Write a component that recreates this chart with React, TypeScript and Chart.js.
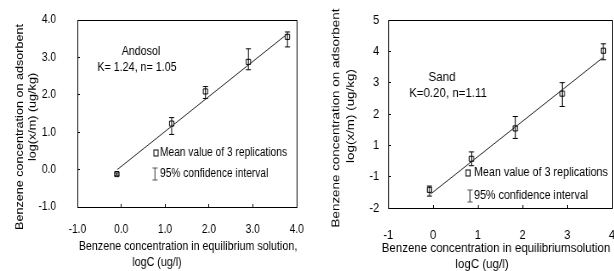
import React, { useEffect, useRef } from "react";
import { Chart, registerables } from "chart.js";
Chart.register(...registerables);

const FONT = "'Liberation Sans', Arial, Helvetica, sans-serif";

// ---------- Andosol panel ----------
const andosolLogC = [-0.1, 1.15, 1.92, 2.9, 3.79];
const andosolMean = [-0.12, 1.23, 2.09, 2.88, 3.55];
const andosolLow = [-0.15, 0.94, 1.9, 2.67, 3.28];
const andosolHigh = [-0.09, 1.39, 2.22, 3.23, 3.68];
const andosolFitLogC = [-0.09, 3.79];
const andosolFitLogQ = [0.0, 3.63];
const andosolXTickLabels = ["-1.0", "0.0", "1.0", "2.0", "3.0", "4.0"];
const andosolYTickLabels = ["-1.0", "0.0", "1.0", "2.0", "3.0", "4.0"];

// ---------- Sand panel (y tick labels as printed: the "0" label is absent) ----------
const sandLogC = [-0.08, 0.86, 1.84, 2.89, 3.81];
const sandMean = [-1.42, -0.43, 0.54, 1.65, 3.02];
const sandLow = [-1.62, -0.65, 0.22, 1.24, 2.73];
const sandHigh = [-1.3, -0.21, 0.92, 2.0, 3.24];
const sandFitLogC = [-0.05, 3.8];
const sandFitLogQ = [-1.55, 2.8];
const sandXTickLabels = ["-1", "0", "1", "2", "3", "4"];
const sandYTickLabels = ["-2", "-1", "1", "2", "3", "4", "5"];

type TextItem = { text: string; x: number; y: number; size: number; rotate?: boolean; align?: CanvasTextAlign };
type PanelDef = {
  left: number;
  squeeze: number;
  width: number;
  yAxisWidth: number;
  xAxisHeight: number;
  padRight: number;
  xMin: number; xMax: number; yMin: number; yMax: number;
  xLabels: string[]; yLabels: string[];
  tickFont: number;
  xTickPad: number; yTickPad: number;
  logC: number[]; mean: number[]; low: number[]; high: number[];
  fitX: number[]; fitY: number[];
  texts: TextItem[];
  legendSquare: { x: number; y: number };
  legendBar: { x: number; y1: number; y2: number };
};

const panels: PanelDef[] = [
  {
    left: 0, squeeze: 0.85, width: 358, yAxisWidth: 91, xAxisHeight: 64, padRight: 9,
    xMin: -1, xMax: 4, yMin: -1, yMax: 4,
    xLabels: andosolXTickLabels, yLabels: andosolYTickLabels,
    tickFont: 12, xTickPad: 18, yTickPad: 28,
    logC: andosolLogC, mean: andosolMean, low: andosolLow, high: andosolHigh,
    fitX: andosolFitLogC, fitY: andosolFitLogQ,
    texts: [
      { text: "Benzene concentration on adsorbent", x: 20, y: 127, size: 12.6, rotate: true },
      { text: "log(x/m) (ug/kg)", x: 33, y: 117, size: 12.6, rotate: true },
      { text: "Benzene concentration in equilibrium solution,", x: 188, y: 247, size: 12.6 },
      { text: "logC (ug/l)", x: 157, y: 263, size: 12.6 },
      { text: "Andosol", x: 141, y: 52, size: 12.6 },
      { text: "K= 1.24, n= 1.05", x: 137, y: 68, size: 12.6 },
      { text: "Mean value of 3 replications", x: 160, y: 153, size: 12, align: "left" },
      { text: "95% confidence interval", x: 160, y: 174, size: 12, align: "left" },
    ],
    legendSquare: { x: 156, y: 153 },
    legendBar: { x: 155, y1: 168, y2: 180 },
  },
  {
    left: 304, squeeze: 0.86, width: 372, yAxisWidth: 98, xAxisHeight: 63, padRight: 14,
    xMin: -1, xMax: 4, yMin: -2, yMax: 4,
    xLabels: sandXTickLabels, yLabels: sandYTickLabels,
    tickFont: 13, xTickPad: 23, yTickPad: 13.5,
    logC: sandLogC, mean: sandMean, low: sandLow, high: sandHigh,
    fitX: sandFitLogC, fitY: sandFitLogQ,
    texts: [
      { text: "Benzene concentration on adsorbent", x: 32, y: 118, size: 13.4, rotate: true },
      { text: "log(x/m) (ug/kg)", x: 47, y: 116, size: 13.4, rotate: true },
      { text: "Benzene concentration in equilibriumsolution", x: 192, y: 248, size: 13.4 },
      { text: "logC (ug/l)", x: 178, y: 264, size: 13.4 },
      { text: "Sand", x: 138, y: 77, size: 13.4 },
      { text: "K=0.20, n=1.11", x: 144, y: 93, size: 13.4 },
      { text: "Mean value of 3 replications", x: 170, y: 173, size: 12.5, align: "left" },
      { text: "95% confidence interval", x: 170, y: 196, size: 12.5, align: "left" },
    ],
    legendSquare: { x: 164, y: 173 },
    legendBar: { x: 166, y1: 190, y2: 202 },
  },
];

function makeDecor(p: PanelDef) {
  const s = p.squeeze;
  return {
    id: "decor",
    beforeDatasetsDraw(chart: any) {
      const { left, right, top, bottom } = chart.chartArea;
      const ctx = chart.ctx;
      ctx.save();
      ctx.strokeStyle = "#000";
      ctx.lineWidth = 1;
      ctx.strokeRect(Math.round(left) + 0.5, Math.round(top) + 0.5, Math.round(right - left), Math.round(bottom - top));
      ctx.restore();
    },
    afterDraw(chart: any) {
      const ctx = chart.ctx;
      ctx.save();
      ctx.fillStyle = "#000";
      ctx.textBaseline = "middle";
      for (const t of p.texts) {
        ctx.font = `${t.size}px ${FONT}`;
        ctx.textAlign = t.align || "center";
        if (t.rotate) {
          ctx.save();
          ctx.translate(t.x / s, t.y);
          ctx.rotate(-Math.PI / 2);
          ctx.fillText(t.text, 0, 0);
          ctx.restore();
        } else {
          ctx.fillText(t.text, t.x / s, t.y);
        }
      }
      // legend symbols
      ctx.strokeStyle = "#000";
      ctx.lineWidth = 1;
      const sq = p.legendSquare;
      ctx.fillStyle = "#fff";
      ctx.fillRect(sq.x / s - 2.5, sq.y - 3, 5, 6);
      ctx.strokeRect(sq.x / s - 2.5, sq.y - 3, 5, 6);
      const b = p.legendBar;
      ctx.strokeStyle = "#555";
      ctx.lineWidth = 1.2;
      ctx.beginPath();
      ctx.moveTo(b.x / s, b.y1);
      ctx.lineTo(b.x / s, b.y2);
      ctx.moveTo(b.x / s - 3, b.y1);
      ctx.lineTo(b.x / s + 3, b.y1);
      ctx.moveTo(b.x / s - 3, b.y2);
      ctx.lineTo(b.x / s + 3, b.y2);
      ctx.stroke();
      ctx.restore();
    },
  };
}

function buildConfig(p: PanelDef): any {
  const errData: any[] = [];
  p.logC.forEach((x, i) => {
    errData.push({ x, y: p.low[i] });
    errData.push({ x, y: p.high[i] });
    errData.push({ x, y: null });
  });
  const axisCommon = (labels: string[], min: number, max: number, pad: number) => ({
    type: "linear",
    min,
    max,
    ticks: {
      stepSize: 1,
      autoSkip: false,
      color: "#000",
      font: { family: FONT, size: p.tickFont },
      padding: pad,
      callback: (_v: any, i: number) => labels[i],
    },
    grid: { drawOnChartArea: false, drawTicks: true, tickLength: -3, color: "#000", lineWidth: 1 },
    border: { display: true, color: "#000", width: 1 },
  });
  return {
    type: "scatter",
    data: {
      datasets: [
        {
          label: "fit",
          data: p.fitX.map((x, i) => ({ x, y: p.fitY[i] })),
          showLine: true,
          borderColor: "#222",
          borderWidth: 1,
          pointRadius: 0,
        },
        {
          label: "95% confidence interval",
          data: errData,
          showLine: true,
          spanGaps: false,
          borderColor: "#000",
          borderWidth: 1,
          pointStyle: "line",
          pointRadius: 3,
          pointBorderWidth: 1,
          pointBorderColor: "#000",
        },
        {
          label: "Mean value of 3 replications",
          data: p.logC.map((x, i) => ({ x, y: p.mean[i] })),
          showLine: false,
          pointStyle: "rect",
          pointRadius: 3.6,
          pointBackgroundColor: "#fff",
          pointBorderColor: "#000",
          pointBorderWidth: 1,
        },
      ],
    },
    options: {
      animation: false,
      responsive: false,
      maintainAspectRatio: false,
      events: [],
      layout: { padding: { left: 0, right: p.padRight, top: 20, bottom: 0 } },
      plugins: { legend: { display: false }, tooltip: { enabled: false }, title: { display: false } },
      scales: {
        x: {
          ...axisCommon(p.xLabels, p.xMin, p.xMax, p.xTickPad),
          position: "bottom",
          afterFit: (sc: any) => {
            sc.height = p.xAxisHeight;
            sc.paddingLeft = 0;
            sc.paddingRight = 0;
          },
        },
        y: {
          ...axisCommon(p.yLabels, p.yMin, p.yMax, p.yTickPad),
          position: "left",
          afterFit: (sc: any) => {
            sc.width = p.yAxisWidth;
            sc.paddingTop = 0;
            sc.paddingBottom = 0;
          },
        },
      },
    },
    plugins: [makeDecor(p)],
  };
}

function Panel({ p }: { p: PanelDef }) {
  const ref = useRef<HTMLCanvasElement>(null);
  useEffect(() => {
    const chart = new Chart(ref.current as HTMLCanvasElement, buildConfig(p));
    return () => chart.destroy();
  }, [p]);
  return (
    <canvas
      ref={ref}
      width={p.width}
      height={271}
      style={{
        position: "absolute",
        left: p.left,
        top: 0,
        display: "block",
        transform: `scaleX(${p.squeeze})`,
        transformOrigin: "0 0",
      }}
    />
  );
}

export default function App() {
  return (
    <div
      style={{
        position: "fixed",
        left: 0,
        top: 0,
        width: 614,
        height: 271,
        overflow: "hidden",
        background: "#fff",
      }}
    >
      {panels.map((p, i) => (
        <Panel key={i} p={p} />
      ))}
    </div>
  );
}
